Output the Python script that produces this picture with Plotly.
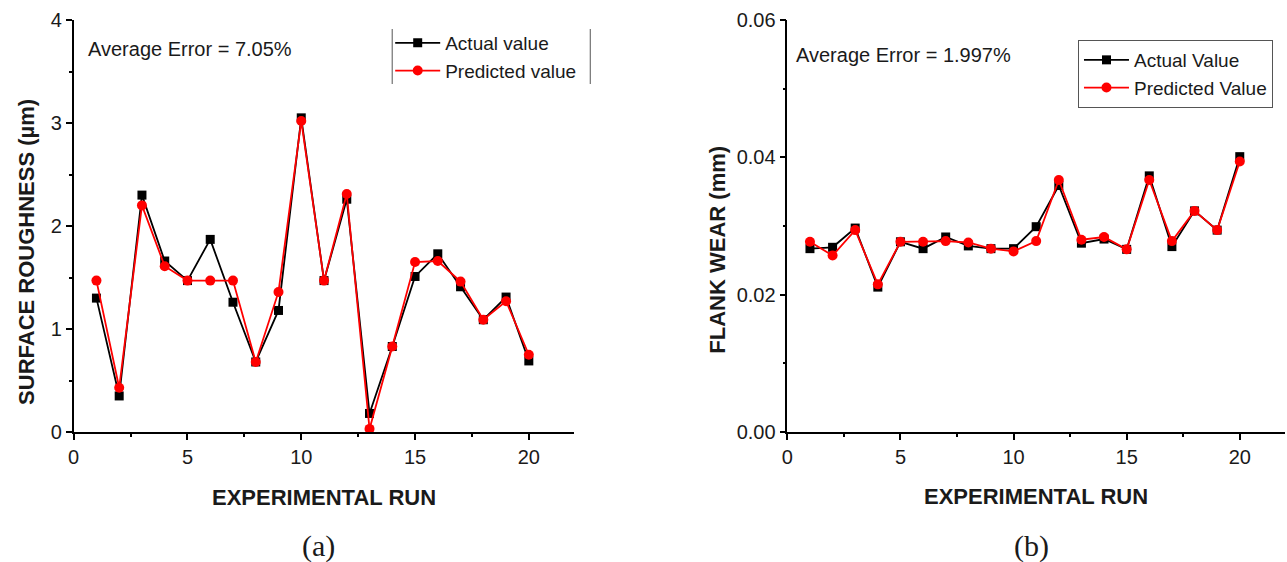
import plotly.graph_objects as go

# ---------------- data ----------------
runs = list(range(1, 21))
sr_actual = [1.30, 0.35, 2.30, 1.66, 1.47, 1.87, 1.26, 0.68, 1.18, 3.05,
             1.47, 2.26, 0.18, 0.83, 1.51, 1.73, 1.41, 1.09, 1.31, 0.69]
sr_pred = [1.47, 0.43, 2.20, 1.61, 1.47, 1.47, 1.47, 0.68, 1.36, 3.02,
           1.47, 2.31, 0.03, 0.83, 1.65, 1.66, 1.46, 1.09, 1.27, 0.75]
fw_actual = [0.0267, 0.0269, 0.0297, 0.0211, 0.0277, 0.0267, 0.0284, 0.0271, 0.0267, 0.0267,
             0.0299, 0.0359, 0.0275, 0.0281, 0.0266, 0.0373, 0.0270, 0.0322, 0.0294, 0.0401]
fw_pred = [0.0277, 0.0257, 0.0294, 0.0215, 0.0277, 0.0277, 0.0278, 0.0276, 0.0267, 0.0263,
           0.0278, 0.0367, 0.0280, 0.0284, 0.0266, 0.0367, 0.0278, 0.0322, 0.0294, 0.0394]

left_names = ["Actual value", "Predicted value"]
right_names = ["Actual Value", "Predicted Value"]
err_left = "Average Error = 7.05%"
err_right = "Average Error = 1.997%"

# ---------------- layout helpers ----------------
W, H = 1287, 562
MT, MB = 20, 130
PH = H - MT - MB


def px(x):
    return x / W


def py(y):
    return (H - MB - y) / PH


FONT = "Liberation Sans, Arial, sans-serif"
TXT = "#1a1a1a"

fig = go.Figure()

fig.add_trace(go.Scatter(x=runs, y=sr_actual, name=left_names[0], mode="lines+markers",
                         line=dict(color="black", width=1.8),
                         marker=dict(symbol="square", size=9, color="black"),
                         xaxis="x", yaxis="y", legend="legend", cliponaxis=False))
fig.add_trace(go.Scatter(x=runs, y=sr_pred, name=left_names[1], mode="lines+markers",
                         line=dict(color="#ff0000", width=1.8),
                         marker=dict(symbol="circle", size=10, color="#ff0000"),
                         xaxis="x", yaxis="y", legend="legend", cliponaxis=False))
fig.add_trace(go.Scatter(x=runs, y=fw_actual, name=right_names[0], mode="lines+markers",
                         line=dict(color="black", width=1.8),
                         marker=dict(symbol="square", size=9, color="black"),
                         xaxis="x2", yaxis="y2", legend="legend2", cliponaxis=False))
fig.add_trace(go.Scatter(x=runs, y=fw_pred, name=right_names[1], mode="lines+markers",
                         line=dict(color="#ff0000", width=1.8),
                         marker=dict(symbol="circle", size=10, color="#ff0000"),
                         xaxis="x2", yaxis="y2", legend="legend2", cliponaxis=False))

axis_common = dict(showline=True, linecolor="black", linewidth=1.5, ticks="outside",
                   ticklen=6, tickwidth=1.5, tickcolor="black", showgrid=False,
                   zeroline=False, tickfont=dict(family=FONT, size=20, color=TXT),
                   mirror=False)

fig.update_layout(
    width=W, height=H,
    margin=dict(l=0, r=0, t=MT, b=MB, pad=0),
    paper_bgcolor="white", plot_bgcolor="white",
    font=dict(family=FONT, color=TXT),
    xaxis=dict(domain=[px(68), px(571)], range=[0, 22], dtick=5, tick0=0,
               minor=dict(dtick=2.5, ticks="outside", ticklen=3, tickwidth=1.5, tickcolor="black"),
               anchor="y", **axis_common),
    yaxis=dict(domain=[0, 1], range=[0, 4], dtick=1, tick0=0,
               minor=dict(dtick=0.5, ticks="outside", ticklen=3, tickwidth=1.5, tickcolor="black"),
               anchor="x", **axis_common),
    xaxis2=dict(domain=[px(785), px(1285)], range=[0, 22], dtick=5, tick0=0,
                minor=dict(dtick=2.5, ticks="outside", ticklen=3, tickwidth=1.5, tickcolor="black"),
                anchor="y2", **axis_common),
    yaxis2=dict(domain=[0, 1], range=[0, 0.06], dtick=0.02, tick0=0, tickformat=".2f",
                minor=dict(dtick=0.01, ticks="outside", ticklen=3, tickwidth=1.5, tickcolor="black"),
                anchor="x2", **axis_common),
    legend=dict(x=px(386), y=py(24), xanchor="left", yanchor="top",
                bgcolor="rgba(0,0,0,0)", borderwidth=0, itemwidth=45,
                font=dict(family=FONT, size=19, color=TXT), tracegroupgap=0),
    legend2=dict(x=px(1077), y=py(40), xanchor="left", yanchor="top",
                 bgcolor="white", bordercolor="#555555", borderwidth=1, itemwidth=45,
                 font=dict(family=FONT, size=19, color=TXT), tracegroupgap=0),
    showlegend=True,
)

# left legend: only vertical side lines
for xv in (388, 587):
    fig.add_shape(type="line", xref="paper", yref="paper",
                  x0=px(xv), x1=px(xv), y0=py(29), y1=py(84),
                  line=dict(color="#555555", width=1))

ann = [
    dict(text=err_left, x=px(80), y=py(49), xanchor="left", yanchor="middle",
         font=dict(family=FONT, size=20, color=TXT)),
    dict(text=err_right, x=px(792), y=py(55), xanchor="left", yanchor="middle",
         font=dict(family=FONT, size=20, color=TXT)),
    dict(text="<b>SURFACE ROUGHNESS (µm)</b>", x=px(20), y=py(252), textangle=-90,
         xanchor="center", yanchor="middle", font=dict(family=FONT, size=22, color=TXT)),
    dict(text="<b>FLANK WEAR (mm)</b>", x=px(714), y=py(250), textangle=-90,
         xanchor="center", yanchor="middle", font=dict(family=FONT, size=22, color=TXT)),
    dict(text="<b>EXPERIMENTAL RUN</b>", x=px(319), y=py(498), xanchor="center", yanchor="middle",
         font=dict(family=FONT, size=22, color=TXT)),
    dict(text="<b>EXPERIMENTAL RUN</b>", x=px(1035), y=py(496), xanchor="center", yanchor="middle",
         font=dict(family=FONT, size=22, color=TXT)),
    dict(text="(a)", x=px(314), y=py(546), xanchor="center", yanchor="middle",
         font=dict(family="Liberation Serif, Times New Roman, serif", size=30, color=TXT)),
    dict(text="(b)", x=px(1030), y=py(546), xanchor="center", yanchor="middle",
         font=dict(family="Liberation Serif, Times New Roman, serif", size=30, color=TXT)),
]
for a in ann:
    fig.add_annotation(xref="paper", yref="paper", showarrow=False, **a)

fig.write_html("out.html")
